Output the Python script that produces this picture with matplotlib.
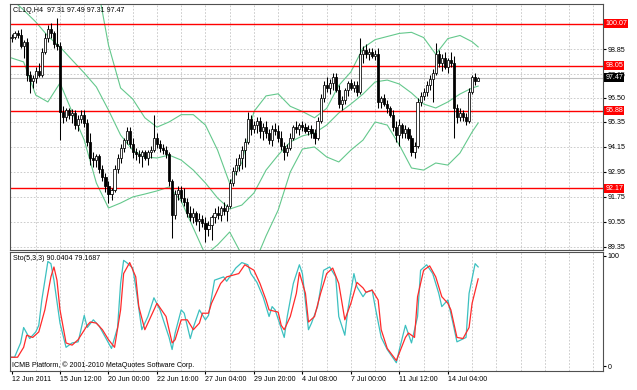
import matplotlib
matplotlib.use("Agg")
import matplotlib.pyplot as plt
import numpy as np

plt.rcParams["font.family"] = ["Liberation Sans", "DejaVu Sans"]

# ---- data (CL1Q, H4) ----
header_text = "CL1Q,H4  97.31 97.49 97.31 97.47"
sto_text = "Sto(5,3,3) 90.0404 79.1687"
copyright_text = "ICMB Platform, \u00a9 2001-2010 MetaQuotes Software Corp."

opens = [99.40, 99.45, 99.60, 99.50, 99.00, 99.20, 97.60, 97.30, 97.45, 97.80,
         97.60, 98.70, 99.40, 99.80, 99.60, 99.10, 99.00, 95.85, 95.60, 95.90,
         95.70, 95.80, 95.20, 95.50, 95.70, 95.30, 94.40, 93.60, 93.50, 93.70,
         93.10, 92.70, 92.30, 91.90, 92.10, 93.10, 93.60, 94.10, 94.50, 94.90,
         94.30, 93.90, 93.80, 93.70, 93.90, 93.60, 93.90, 94.00, 94.60, 94.30,
         94.10, 94.00, 93.80, 92.50, 90.90, 91.90, 92.10, 91.70, 91.50, 91.00,
         90.80, 91.00, 90.60, 90.70, 90.50, 90.20, 90.40, 90.80, 91.00, 90.90,
         91.20, 91.10, 91.30, 92.40, 93.00, 93.30, 93.60, 94.00, 94.40, 95.50,
         95.00, 95.20, 95.40, 94.90, 95.10, 94.80, 94.50, 95.00, 94.90, 94.60,
         94.20, 93.90, 94.10, 94.60, 95.10, 95.00, 95.20, 95.10, 94.90, 95.00,
         94.80, 94.60, 95.40, 96.50, 97.10, 97.00, 97.20, 97.50, 96.90, 96.20,
         96.40, 96.90, 97.20, 97.00, 97.10, 96.80, 98.60, 98.80, 98.60, 98.70,
         98.50, 98.60, 96.30, 96.50, 96.20, 96.00, 95.70, 95.10, 94.70, 95.20,
         94.80, 95.00, 94.60, 93.90, 94.20, 96.30, 96.60, 96.80, 97.10, 97.40,
         97.70, 98.60, 98.20, 98.40, 98.00, 98.30, 98.20, 96.00, 95.60, 95.80,
         95.60, 95.40, 96.80, 97.50, 97.31]
highs = [99.55, 99.70, 99.75, 99.80, 99.30, 99.40, 97.80, 97.60, 98.00, 98.20,
         98.90, 99.60, 100.00, 100.10, 99.70, 100.35, 99.20, 96.10, 96.00, 96.00,
         95.95, 95.90, 95.70, 95.90, 95.90, 95.50, 94.80, 93.90, 93.80, 93.80,
         93.30, 92.90, 92.50, 92.20, 93.30, 93.80, 94.30, 94.60, 95.10, 95.10,
         94.60, 94.10, 94.00, 94.00, 94.00, 94.00, 94.20, 95.70, 94.80, 94.50,
         94.30, 94.20, 93.90, 92.60, 92.10, 92.30, 92.30, 92.20, 91.70, 91.30,
         91.20, 91.10, 91.00, 90.90, 90.80, 90.60, 90.90, 91.20, 91.30, 91.30,
         91.50, 91.40, 92.60, 93.20, 93.60, 93.80, 94.20, 94.60, 95.85, 95.70,
         95.40, 95.60, 95.60, 95.30, 95.40, 95.00, 95.20, 95.30, 95.20, 94.90,
         94.40, 94.30, 94.80, 95.20, 95.40, 95.30, 95.40, 95.30, 95.20, 95.20,
         95.00, 95.60, 96.70, 97.30, 97.50, 97.40, 97.70, 97.70, 97.10, 96.60,
         97.00, 97.30, 97.40, 97.30, 97.30, 99.40, 99.00, 99.10, 98.90, 98.90,
         98.80, 98.90, 96.60, 96.70, 96.40, 96.10, 95.90, 95.40, 95.50, 95.30,
         95.20, 95.10, 94.70, 94.40, 96.50, 96.80, 97.00, 97.30, 97.60, 97.90,
         99.15, 98.80, 98.60, 98.70, 98.40, 98.70, 98.50, 96.20, 96.00, 95.90,
         95.80, 97.00, 97.60, 97.70, 97.49]
lows = [99.20, 99.35, 99.40, 98.90, 98.40, 97.30, 96.75, 97.00, 97.20, 97.50,
        97.50, 98.60, 99.20, 99.40, 98.90, 98.80, 94.50, 95.30, 95.40, 95.50,
        95.30, 95.00, 94.90, 95.30, 95.10, 94.20, 93.30, 93.20, 93.20, 92.90,
        92.50, 92.00, 91.45, 91.60, 92.00, 92.90, 93.40, 93.90, 94.30, 94.10,
        93.60, 93.50, 93.40, 93.20, 93.50, 93.30, 93.60, 93.90, 94.10, 93.90,
        93.80, 93.60, 92.30, 89.80, 90.70, 91.60, 91.50, 91.30, 90.80, 90.60,
        90.50, 90.40, 90.10, 90.30, 89.60, 89.90, 89.70, 90.50, 90.70, 90.60,
        90.90, 90.60, 91.20, 92.30, 92.80, 93.00, 93.10, 93.20, 94.30, 94.70,
        94.80, 94.80, 94.60, 94.50, 94.60, 94.30, 94.20, 94.70, 94.40, 94.00,
        93.50, 93.70, 94.00, 94.50, 94.80, 94.70, 94.90, 94.80, 94.70, 94.60,
        94.30, 94.50, 95.30, 96.30, 96.80, 96.70, 96.90, 96.80, 96.00, 95.90,
        96.20, 96.60, 96.90, 96.80, 96.60, 96.70, 98.20, 98.40, 98.30, 98.40,
        98.30, 96.00, 96.00, 96.10, 95.80, 95.60, 94.90, 94.40, 94.20, 94.60,
        94.60, 94.50, 93.70, 93.60, 94.10, 96.10, 96.40, 96.60, 96.90, 96.30,
        97.60, 98.00, 97.80, 97.90, 97.70, 98.00, 94.60, 95.30, 95.40, 95.40,
        95.20, 95.30, 96.70, 97.10, 97.31]
closes = [99.45, 99.60, 99.50, 99.00, 99.20, 97.60, 97.30, 97.45, 97.80, 97.60,
          98.70, 99.40, 99.80, 99.60, 99.10, 99.00, 95.85, 95.60, 95.90, 95.70,
          95.80, 95.20, 95.50, 95.70, 95.30, 94.40, 93.60, 93.50, 93.70, 93.10,
          92.70, 92.30, 91.90, 92.10, 93.10, 93.60, 94.10, 94.50, 94.90, 94.30,
          93.90, 93.80, 93.70, 93.90, 93.60, 93.90, 94.00, 94.60, 94.30, 94.10,
          94.00, 93.80, 92.50, 90.90, 91.90, 92.10, 91.70, 91.50, 91.00, 90.80,
          91.00, 90.60, 90.70, 90.50, 90.20, 90.40, 90.80, 91.00, 90.90, 91.20,
          91.10, 91.30, 92.40, 93.00, 93.30, 93.60, 94.00, 94.40, 95.50, 95.00,
          95.20, 95.40, 94.90, 95.10, 94.80, 94.50, 95.00, 94.90, 94.60, 94.20,
          93.90, 94.10, 94.60, 95.10, 95.00, 95.20, 95.10, 94.90, 95.00, 94.80,
          94.60, 95.40, 96.50, 97.10, 97.00, 97.20, 97.50, 96.90, 96.20, 96.40,
          96.90, 97.20, 97.00, 97.10, 96.80, 98.60, 98.80, 98.60, 98.70, 98.50,
          98.60, 96.30, 96.50, 96.20, 96.00, 95.70, 95.10, 94.70, 95.20, 94.80,
          95.00, 94.60, 93.90, 94.20, 96.30, 96.60, 96.80, 97.10, 97.40, 97.70,
          98.60, 98.20, 98.40, 98.00, 98.30, 98.20, 96.00, 95.60, 95.80, 95.60,
          95.40, 96.80, 97.50, 97.31, 97.47]

# Bollinger bands, read every 4 bars
band_idx = [0, 4, 8, 12, 16, 20, 24, 28, 32, 36, 40, 44, 48, 52, 56, 60, 64, 68,
            72, 76, 80, 84, 88, 92, 96, 100, 104, 108, 112, 116, 120, 124, 128,
            132, 136, 140, 144, 148, 152, 154]
bb_upper = [101.6, 101.8, 101.9, 102.0, 101.9, 101.8, 101.6, 102.2, 99.04, 96.98,
            96.45, 95.55, 95.10, 95.35, 95.70, 95.70, 95.20, 94.00, 92.40, 93.40,
            95.85, 96.60, 96.70, 96.10, 95.85, 95.55, 96.00, 97.10, 97.75, 98.90,
            99.30, 99.45, 99.60, 99.65, 99.40, 98.60, 99.35, 99.50, 99.20, 98.95]
bb_middle = [101.25, 100.72, 100.15, 99.47, 98.95, 98.32, 97.70, 97.03, 95.92, 94.72,
             94.00, 93.67, 93.62, 93.76, 93.52, 93.04, 92.42, 91.70, 91.17, 91.36,
             91.94, 93.04, 93.76, 94.39, 94.68, 94.82, 95.20, 95.78, 96.21, 96.69,
             97.27, 97.36, 97.17, 96.74, 96.21, 96.02, 96.31, 96.69, 96.98, 97.07]
bb_lower = [98.42, 98.23, 96.64, 96.31, 97.22, 95.83, 94.48, 92.42, 91.22, 91.46,
            91.75, 91.89, 92.04, 92.23, 91.56, 90.26, 88.97, 89.45, 90.07, 88.97,
            88.50, 89.88, 91.12, 92.95, 94.05, 94.15, 93.67, 93.43, 94.00, 94.48,
            95.35, 95.20, 94.24, 93.14, 93.04, 93.38, 93.28, 93.86, 94.87, 95.30]

# Stochastic (5,3,3)
sto_k_idx = [0, 1, 3, 4, 5, 6, 8, 9, 10, 12, 13, 14, 16, 18, 20, 22, 24, 25, 27, 29,
             31, 33, 35, 36, 37, 38, 40, 41, 43, 45, 47, 49, 52, 53, 54, 56, 57, 59, 60, 62,
             64, 65, 67, 70, 71, 74, 76, 77, 78, 79, 81, 83, 85, 86, 87, 90, 91, 93, 95, 96,
             98, 99, 101, 103, 105, 107, 108, 110, 111, 113, 114, 116, 117, 119, 120, 122,
             124, 127, 128, 130, 132, 134, 135, 137, 139, 141, 142, 144, 146, 147, 150,
             151, 153, 154]
sto_k = [8, 8, 21, 35, 30, 25, 31, 37, 60, 95, 93, 78, 39, 17, 21, 22, 46, 35, 42, 36,
         26, 16, 35, 75, 96, 94, 89, 72, 33, 45, 62, 51, 26, 15, 30, 51, 48, 25, 35, 51,
         42, 46, 78, 81, 77, 89, 94, 93, 92, 84, 76, 63, 45, 54, 51, 26, 45, 75, 92, 84,
         33, 39, 54, 87, 90, 81, 45, 28, 51, 84, 72, 63, 67, 69, 54, 26,
         15, 3, 15, 37, 21, 45, 87, 92, 84, 66, 54, 60, 35, 22, 26,
         66, 93, 90.04]
sto_d_idx = [0, 2, 4, 5, 7, 9, 11, 13, 14, 15, 16, 18, 20, 22, 25, 26, 28, 30, 32, 34,
             36, 37, 39, 41, 42, 44, 46, 48, 51, 53, 54, 56, 58, 60, 62, 63, 65, 66, 69, 71,
             75, 77, 80, 82, 84, 85, 88, 89, 90, 92, 94, 95, 97, 98, 100, 102, 104, 106,
             108, 110, 112, 114, 116, 117, 119, 121, 122, 124, 127, 128, 130, 131, 133,
             134, 136, 138, 140, 142, 144, 145, 147, 149, 151, 152, 154]
sto_d = [8, 8, 17, 28, 26, 31, 51, 81, 90, 78, 51, 21, 19, 24, 37, 40, 39, 33, 24, 17,
         51, 84, 94, 81, 54, 33, 45, 57, 45, 21, 24, 42, 42, 33, 39, 48, 48, 57, 75, 81,
         84, 92, 87, 75, 60, 51, 49, 37, 33, 45, 66, 85, 66, 40, 45, 66, 84, 89,
         75, 42, 57, 76, 71, 67, 69, 60, 33, 16, 5, 12, 26, 30, 26,
         63, 87, 91, 81, 63, 57, 51, 26, 25, 35, 57, 79.17]

level_prices = [100.07, 98.05, 95.88, 92.17]
level_labels = ["100.07", "98.05", "95.88", "92.17"]
last_price = 97.47
price_ticks = [89.35, 90.55, 91.75, 92.95, 94.15, 95.35, 96.50, 97.65, 98.85]
price_tick_labels = ["89.35", "90.55", "91.75", "92.95", "94.15", "95.35", "96.50", "97.65", "98.85"]
date_bars = [0, 16, 32, 48, 64, 80, 96, 112, 128, 144]
date_labels = ["12 Jun 2011", "15 Jun 12:00", "20 Jun 00:00", "22 Jun 16:00",
               "27 Jun 04:00", "29 Jun 20:00", "4 Jul 08:00", "7 Jul 00:00",
               "11 Jul 12:00", "14 Jul 04:00"]

W, H = 637, 390
FS = 5.1
GRID = dict(color="#c4c4c4", lw=0.6, ls=(0, (2, 2)), zorder=0)


def px_rect(x0, y0, x1, y1):
    return [x0 / W, 1 - y1 / H, (x1 - x0) / W, (y1 - y0) / H]


fig = plt.figure(figsize=(W / 100, H / 100), dpi=100)
ax = fig.add_axes(px_rect(10, 4, 603, 250))
ax2 = fig.add_axes(px_rect(10, 252, 603, 371))

for a in (ax, ax2):
    a.set_xlim(-0.5, 195.2)
    for s in a.spines.values():
        s.set_color("#505050")
        s.set_linewidth(0.8)
    for b in range(8, 196, 8):
        a.axvline(b, **GRID)

# price panel
ax.set_ylim(89.205, 101.01)
ax.set_yticks(price_ticks)
ax.set_yticklabels(price_tick_labels)
ax.yaxis.tick_right()
ax.tick_params(axis="y", length=2, pad=1.5, labelsize=FS, colors="black")
ax.tick_params(axis="x", bottom=False, labelbottom=False)
for p in price_ticks:
    ax.axhline(p, **GRID)

x = np.arange(len(closes))
o, h, l, c = map(np.array, (opens, highs, lows, closes))
up = c >= o
ax.vlines(x, l, h, color="black", lw=0.75, zorder=3)
body_lo = np.minimum(o, c)
body_h = np.maximum(np.abs(c - o), 0.02)
ax.bar(x[up], body_h[up], bottom=body_lo[up], width=0.7, color="white",
       edgecolor="black", lw=0.55, zorder=4)
ax.bar(x[~up], body_h[~up], bottom=body_lo[~up], width=0.7, color="black",
       edgecolor="black", lw=0.55, zorder=4)

band_col = "#64c88c"
for band in (bb_upper, bb_middle, bb_lower):
    ax.plot(band_idx, band, color=band_col, lw=0.8, zorder=2)

ax.axhline(last_price, color="#c0c0c0", lw=0.8, zorder=1)
for p in level_prices:
    ax.axhline(p, color="#ff0000", lw=1.0, zorder=2)

ytr = ax.get_yaxis_transform()
for p, lab in zip(level_prices, level_labels):
    ax.text(1.004, p, lab, transform=ytr, ha="left", va="center", fontsize=FS,
            color="white", bbox=dict(boxstyle="square,pad=0.15", fc="#ff0000", ec="none"),
            zorder=10, clip_on=False)
ax.text(1.004, last_price, f"{last_price:.2f}", transform=ytr, ha="left", va="center",
        fontsize=FS, color="white",
        bbox=dict(boxstyle="square,pad=0.15", fc="black", ec="none"), zorder=10, clip_on=False)

fig.text(13 / W, 1 - 10 / H, header_text, fontsize=FS, va="center", ha="left")

# stochastic panel
ax2.set_ylim(-4.5, 103.6)
ax2.yaxis.tick_right()
ax2.set_yticks([0, 100])
ax2.set_yticklabels(["0", "100"])
ax2.tick_params(axis="y", length=2, pad=1.5, labelsize=FS)
ax2.plot(sto_k_idx, sto_k, color="#3cc0c0", lw=0.9, zorder=3)
ax2.plot(sto_d_idx, sto_d, color="#ff2a2a", lw=0.9, zorder=4)
ax2.set_xticks(date_bars)
ax2.set_xticklabels(date_labels)
ax2.tick_params(axis="x", length=2, pad=1.5, labelsize=FS)
for t in ax2.get_xticklabels():
    t.set_ha("left")

fig.text(13 / W, 1 - 258 / H, sto_text, fontsize=FS, va="center", ha="left")
fig.text(12 / W, 1 - 365 / H, copyright_text, fontsize=FS, va="center", ha="left")

fig.savefig("out.png", dpi=100)
